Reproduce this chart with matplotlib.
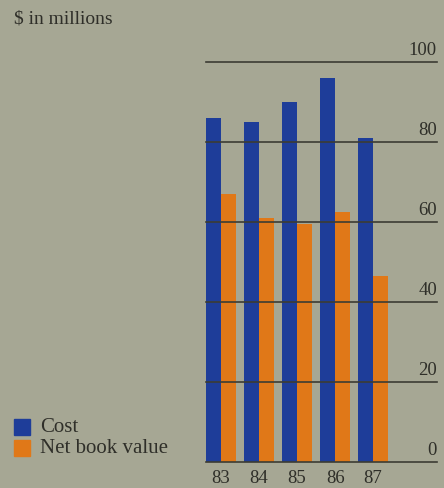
import matplotlib.pyplot as plt
from matplotlib.patches import Rectangle

YEARS = ["83", "84", "85", "86", "87"]
COST = [86, 85, 90, 96, 81]
NET_BOOK = [67, 61, 59.5, 62.5, 46.5]
GRID_VALUES = [0, 20, 40, 60, 80, 100]

FUNDO = '#a6a794'
AZUL = '#1e3d99'
LARANJA = '#e07818'
TEXTO = '#2f2f29'
FONTE = 'Liberation Serif'

W, H = 444, 489


def px_x(x):
    return x / W


def px_y(y):
    return 1 - y / H


def main():
    fig = plt.figure(figsize=(W / 100, H / 100), dpi=100, facecolor=FUNDO)

    # area do grafico: zero em y=463, 100 em y=63
    ax = fig.add_axes([px_x(206), px_y(463), px_x(437) - px_x(206), px_y(63) - px_y(463)])
    ax.set_facecolor(FUNDO)
    largura = 0.395
    pos = list(range(len(YEARS)))
    ax.bar([p - largura for p in pos], COST, width=largura, align='edge', color=AZUL, zorder=2)
    ax.bar(pos, NET_BOOK, width=largura, align='edge', color=LARANJA, zorder=2)
    ax.set_xlim(-largura, 5.68)
    ax.set_ylim(0, 100)
    for v in GRID_VALUES:
        ax.axhline(v, color='#3c3c33', lw=1.2, zorder=3, clip_on=False)
        ax.text(1.0, v + 1.1, str(v), transform=ax.get_yaxis_transform(), ha='right', va='bottom',
                fontsize=13.5, family=FONTE, color=TEXTO)
    for p, ano in zip(pos, YEARS):
        ax.text(p, -1.8, ano, ha='center', va='top', fontsize=13.5, family=FONTE, color=TEXTO)
    for s in ax.spines.values():
        s.set_visible(False)
    ax.set_xticks([])
    ax.set_yticks([])

    fig.text(px_x(14), px_y(19), "$ in millions", ha='left', va='center', fontsize=14,
             family=FONTE, color=TEXTO)

    # legenda
    for y0, cor, nome in [(420, AZUL, "Cost"), (441, LARANJA, "Net book value")]:
        fig.patches.append(Rectangle((px_x(14), px_y(y0 + 16)), px_x(16), 16 / H,
                                     transform=fig.transFigure, color=cor))
        fig.text(px_x(40), px_y(y0 + 8), nome, ha='left', va='center', fontsize=15,
                 family=FONTE, color=TEXTO)

    fig.savefig('out.png', dpi=100, facecolor=FUNDO)


if __name__ == '__main__':
    main()
